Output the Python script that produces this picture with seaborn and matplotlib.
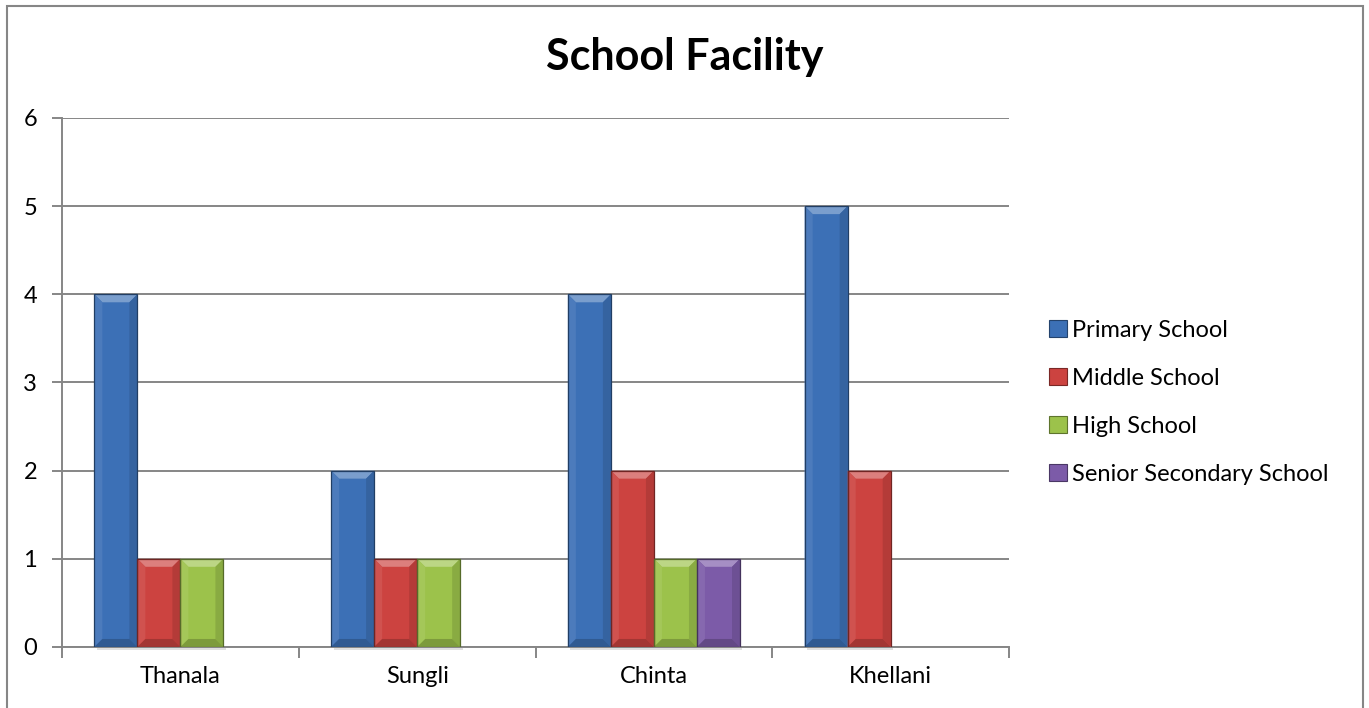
import matplotlib
matplotlib.use("Agg")
import matplotlib.pyplot as plt
import matplotlib.colors as mcolors
from matplotlib.patches import Polygon, Rectangle
import seaborn as sns
import pandas as pd
import numpy as np

# Chart data
villages = ["Thanala", "Sungli", "Chinta", "Khellani"]
school_types = ["Primary School", "Middle School", "High School", "Senior Secondary School"]
primary = [4, 2, 4, 5]
middle = [1, 1, 2, 2]
high = [1, 1, 1, 0]
senior_secondary = [0, 0, 1, 0]
y_ticks = [0, 1, 2, 3, 4, 5, 6]
title = "School Facility"

colors = ["#3c70b6", "#cc4340", "#9cc24b", "#7c5ba8"]

df = pd.DataFrame({
    "Village": villages * 4,
    "Type": sum([[t] * len(villages) for t in school_types], []),
    "Count": primary + middle + high + senior_secondary,
})

sns.set_theme(style="white")
plt.rcParams["font.family"] = ["Lato", "DejaVu Sans"]
plt.rcParams["text.color"] = "black"
plt.rcParams["xtick.color"] = "black"
plt.rcParams["ytick.color"] = "black"

fig = plt.figure(figsize=(13.69, 7.08), dpi=100)
ax = fig.add_axes([0.0453, 0.0862, 0.6918, 0.7472])

sns.barplot(data=df, x="Village", y="Count", hue="Type", order=villages,
            hue_order=school_types, palette=colors, width=0.727,
            linewidth=0, ax=ax, legend=False, saturation=1)

ax.set_xlim(-0.5, len(villages) - 0.5)
ax.set_ylim(0, 6)
ax.set_yticks(y_ticks)
ax.set_xlabel("")
ax.set_ylabel("")
ax.yaxis.grid(True, color="#868686", linewidth=1.4)
ax.set_axisbelow(True)
for side in ["top", "right"]:
    ax.spines[side].set_visible(False)
for side in ["left", "bottom"]:
    ax.spines[side].set_color("#868686")
    ax.spines[side].set_linewidth(1.4)

# category boundary ticks on the x axis, labels centred between them
ax.set_xticks(np.arange(-0.5, len(villages), 1.0))
ax.set_xticklabels([])
ax.set_xticks(np.arange(len(villages)), minor=True)
ax.set_xticklabels(villages, minor=True, fontsize=17)
ax.tick_params(axis="x", which="major", direction="out", length=8, width=1.4,
               color="#868686", bottom=True)
ax.tick_params(axis="x", which="minor", length=0, pad=14, labelsize=17,
               labelcolor="black")
ax.tick_params(axis="y", direction="out", length=7, width=1.4, color="#868686",
               left=True, labelsize=17, pad=11, labelcolor="black")

# bevelled bar rendering
fig.canvas.draw()
bbox = ax.get_window_extent()
dx_per_px = (ax.get_xlim()[1] - ax.get_xlim()[0]) / bbox.width
dy_per_px = (ax.get_ylim()[1] - ax.get_ylim()[0]) / bbox.height
bev = 8


def shade(c, f):
    r, g, b = mcolors.to_rgb(c)
    if f > 0:
        return (r + (1 - r) * f, g + (1 - g) * f, b + (1 - b) * f)
    return (r * (1 + f), g * (1 + f), b * (1 + f))


for p in list(ax.patches):
    h = p.get_height()
    if not np.isfinite(h) or h <= 0:
        continue
    x0 = p.get_x()
    x1 = x0 + p.get_width()
    y0, y1 = 0, h
    c = p.get_facecolor()
    dx = bev * dx_per_px
    dy = bev * dy_per_px
    # soft shadow below the bar
    ax.add_patch(Rectangle((x0 + dx * 0.3, y0 - 3 * dy_per_px), x1 - x0, 3 * dy_per_px,
                           facecolor="#000000", alpha=0.12, linewidth=0, zorder=1.5,
                           clip_on=False))
    top = Polygon([(x0, y1), (x1, y1), (x1 - dx, y1 - dy), (x0 + dx, y1 - dy)],
                  closed=True, facecolor=shade(c, 0.32), linewidth=0, zorder=3)
    left = Polygon([(x0, y0), (x0, y1), (x0 + dx, y1 - dy), (x0 + dx, y0 + dy)],
                   closed=True, facecolor=shade(c, 0.08), linewidth=0, zorder=3)
    right = Polygon([(x1, y0), (x1, y1), (x1 - dx, y1 - dy), (x1 - dx, y0 + dy)],
                    closed=True, facecolor=shade(c, -0.12), linewidth=0, zorder=3)
    bottom = Polygon([(x0, y0), (x1, y0), (x1 - dx, y0 + dy), (x0 + dx, y0 + dy)],
                     closed=True, facecolor=shade(c, -0.2), linewidth=0, zorder=3)
    for poly in (top, left, right, bottom):
        ax.add_patch(poly)
    ax.add_patch(Rectangle((x0, y0), x1 - x0, h, facecolor="none",
                           edgecolor=shade(c, -0.45), linewidth=0.9, zorder=4))

# legend
handles = [Rectangle((0, 0), 1, 1, facecolor=c, edgecolor=shade(c, -0.4), linewidth=0.8)
           for c in colors]
fig.legend(handles, school_types, loc="center left", bbox_to_anchor=(0.7596, 0.432),
           frameon=False, fontsize=17, handlelength=0.75, handleheight=0.7,
           handletextpad=0.2, labelspacing=1.14, borderaxespad=0)

fig.text(0.5, 1 - 70 / 708, title, ha="center", va="baseline", fontsize=31,
         fontweight="bold", color="black")

# chart frame
fig.add_artist(Rectangle((0.0051, -0.05), 0.9905, 1.0415, transform=fig.transFigure,
                         facecolor="none", edgecolor="#868686", linewidth=1.5))

fig.savefig("out.png", dpi=100)
